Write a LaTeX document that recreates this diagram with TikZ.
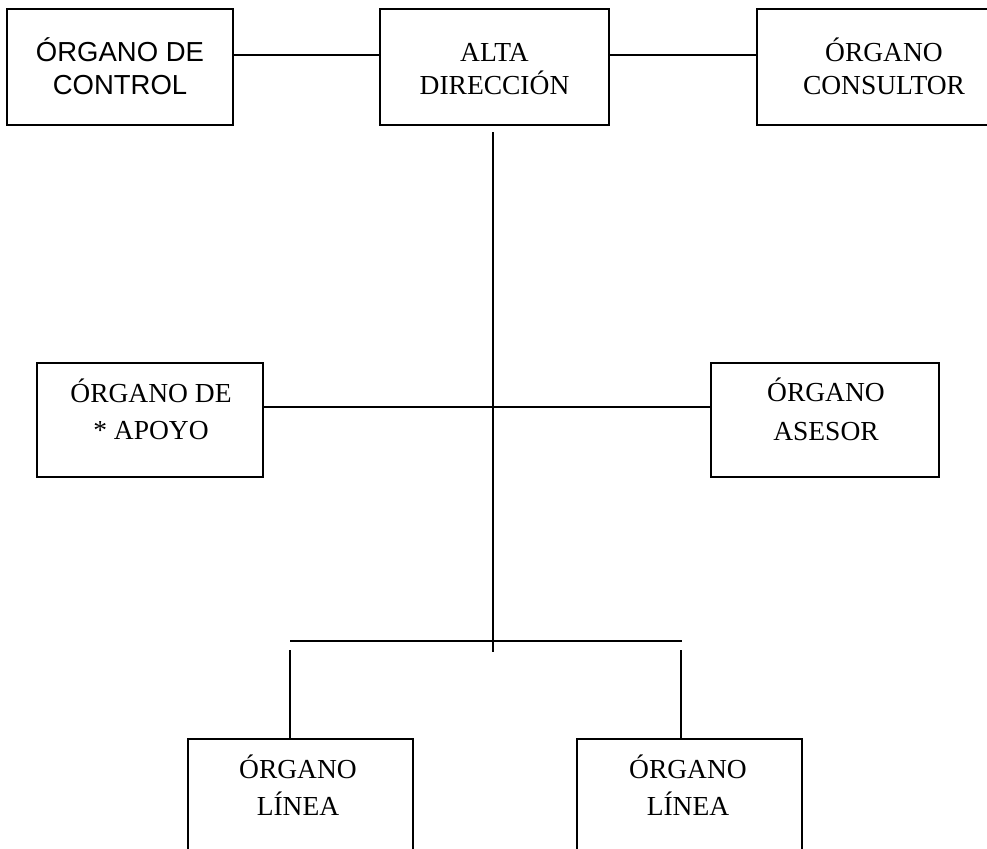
\documentclass[tikz,border=0pt]{standalone}
\usepackage{fontspec}
\setmainfont{Liberation Serif}
\newfontfamily\arialfont{Liberation Sans}
\begin{document}
\begin{tikzpicture}[x=1pt,y=-1pt,
  box/.style={draw=black,line width=2pt,rectangle,inner sep=0pt,outer sep=0pt},
  lbl/.style={anchor=base,inner sep=0pt,font=\fontsize{27.5}{33}\selectfont},
  slbl/.style={anchor=base,inner sep=0pt,font=\arialfont\fontsize{27.5}{33}\selectfont},
  conn/.style={draw=black,line width=2pt}]
\useasboundingbox (0,0) rectangle (987,848);
\clip (0,0) rectangle (987,848);
% boxes
\node[box,minimum width=226pt,minimum height=116pt] (control) at (120,67) {};
\node[box,minimum width=229pt,minimum height=116pt] (alta) at (494.5,67) {};
\node[box,minimum width=254pt,minimum height=116pt] (consultor) at (884,67) {};
\node[box,minimum width=226pt,minimum height=114pt] (apoyo) at (150,420) {};
\node[box,minimum width=228pt,minimum height=114pt] (asesor) at (825,420) {};
\node[box,minimum width=225pt,minimum height=120pt] (linea1) at (300.5,799) {};
\node[box,minimum width=225pt,minimum height=120pt] (linea2) at (689.5,799) {};
% texts
\node[slbl] (control1) at (120,62) {ÓRGANO DE};
\node[slbl] (control2) at (120,95) {CONTROL};
\node[lbl] (alta1) at (494.5,62) {ALTA};
\node[lbl] (alta2) at (494.5,95) {DIRECCIÓN};
\node[lbl] (cons1) at (884,62) {ÓRGANO};
\node[lbl] (cons2) at (884,95) {CONSULTOR};
\node[lbl] (apoyo1) at (151,402) {ÓRGANO DE};
\node[lbl] (apoyo2) at (151,439) {* APOYO};
\node[lbl] (asesor1) at (826,401) {ÓRGANO};
\node[lbl] (asesor2) at (826,440) {ASESOR};
\node[lbl] (lin1a) at (298,778) {ÓRGANO};
\node[lbl] (lin1b) at (298,815) {LÍNEA};
\node[lbl] (lin2a) at (688,778) {ÓRGANO};
\node[lbl] (lin2b) at (688,815) {LÍNEA};
% coordinates
\coordinate (ytop) at (0,55);
\coordinate (ymid) at (0,407);
\coordinate (vtop) at (493,132);
\coordinate (vbot) at (493,652);
\coordinate (hl) at (290,641);
\coordinate (hr) at (682,641);
\coordinate (dl) at (290,650);
\coordinate (dr) at (681,650);
% connectors
\draw[conn] (control.east |- ytop) -- (alta.west |- ytop);
\draw[conn] (alta.east |- ytop) -- (consultor.west |- ytop);
\draw[conn] (vtop) -- (vbot);
\draw[conn] (apoyo.east |- ymid) -- (asesor.west |- ymid);
\draw[conn] (hl) -- (hr);
\draw[conn] (dl) -- (dl |- linea1.north);
\draw[conn] (dr) -- (dr |- linea2.north);
\end{tikzpicture}
\end{document}
